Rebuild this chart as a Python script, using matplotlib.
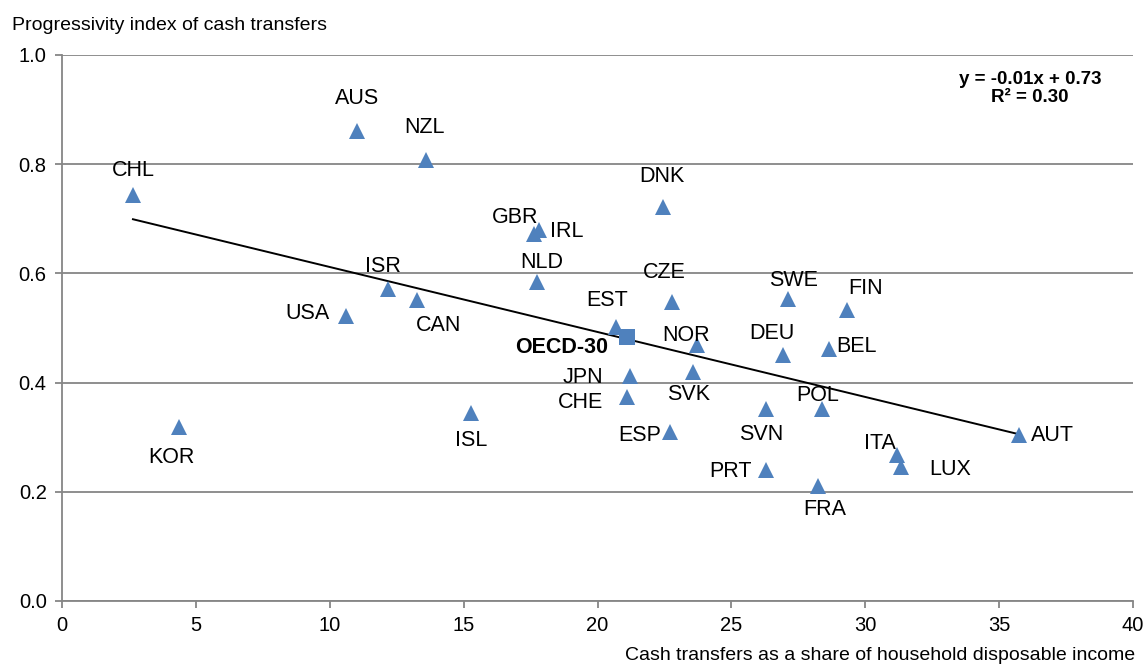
import numpy as np
import matplotlib
matplotlib.use("Agg")
import matplotlib.pyplot as plt

plt.rcParams["font.family"] = ["Liberation Sans", "DejaVu Sans"]

# data
countries = ["CHL", "AUS", "NZL", "DNK", "GBR", "IRL", "NLD", "CZE", "EST", "NOR",
             "DEU", "JPN", "SVK", "CHE", "ISL", "ESP", "SVN", "SWE", "FIN", "BEL",
             "POL", "PRT", "FRA", "ITA", "LUX", "AUT", "ISR", "CAN", "USA", "KOR"]
transfers_share = [2.65, 11.02, 13.59, 22.43, 17.62, 17.82, 17.75, 22.77, 20.69, 23.72,
                   26.91, 21.21, 23.57, 21.11, 15.26, 22.70, 26.31, 27.12, 29.30, 28.64,
                   28.37, 26.31, 28.22, 31.19, 31.35, 35.74, 12.18, 13.24, 10.60, 4.37]
progressivity = [0.744, 0.861, 0.808, 0.721, 0.672, 0.680, 0.584, 0.548, 0.502, 0.469,
                 0.451, 0.412, 0.420, 0.373, 0.344, 0.310, 0.351, 0.554, 0.533, 0.462,
                 0.351, 0.240, 0.211, 0.267, 0.246, 0.304, 0.571, 0.551, 0.522, 0.318]
oecd_x = 21.12
oecd_y = 0.483

# label offsets in pixels (dx right, dy down)
label_offsets = {
    "CHL": (0, -24), "AUS": (0, -32), "NZL": (-1, -32), "DNK": (-1, -31),
    "GBR": (-19, -17), "IRL": (28, 2), "NLD": (4, -20), "CZE": (-7, -29),
    "EST": (-9, -26), "NOR": (-11, -9), "DEU": (-11, -21), "JPN": (-47, 1),
    "SVK": (-5, 23), "CHE": (-47, 5), "ISL": (1, 27), "ESP": (-30, 4),
    "SVN": (-5, 25), "SWE": (5, -18), "FIN": (19, -21), "BEL": (28, -2),
    "POL": (-4, -14), "PRT": (-36, 2), "FRA": (7, 24), "ITA": (-17, -12),
    "LUX": (49, 3), "AUT": (34, 0), "ISR": (-5, -23), "CAN": (22, 25),
    "USA": (-38, -2), "KOR": (-8, 30),
}

blue = "#4F81BD"
grey = "#868686"
px = 72 / 100

fig = plt.figure(figsize=(11.45, 6.65), dpi=100)
ax = fig.add_axes([62 / 1145, 1 - 601 / 665, (1133 - 62) / 1145, (601 - 55) / 665])

# trend line over the country range
xs = np.array(transfers_share)
ys = np.array(progressivity)
slope, intercept = np.polyfit(xs, ys, 1)
line_x = np.array([xs.min(), xs.max()])
ax.plot(line_x, slope * line_x + intercept, color="black", linewidth=1.4, zorder=2)

ax.plot(xs, ys, linestyle="none", marker="^", markersize=11, color=blue,
        markeredgewidth=0, zorder=3)
ax.plot([oecd_x], [oecd_y], linestyle="none", marker="s", markersize=11, color=blue,
        markeredgewidth=0, zorder=3)

for name, x, y in zip(countries, transfers_share, progressivity):
    dx, dy = label_offsets[name]
    ax.annotate(name, (x, y), xytext=(dx * px, -dy * px), textcoords="offset points",
                ha="center", va="center", fontsize=15.5, color="black", zorder=4)
ax.annotate("OECD-30", (oecd_x, oecd_y), xytext=(-66 * px, -10 * px),
            textcoords="offset points", ha="center", va="center", fontsize=15.5,
            fontweight="bold", color="black", zorder=4)

ax.set_xlim(0, 40)
ax.set_ylim(0, 1.0)
ax.set_xticks(np.arange(0, 41, 5))
ax.set_yticks(np.arange(0, 1.01, 0.2))
ax.set_yticklabels([f"{v:.1f}" for v in np.arange(0, 1.01, 0.2)])
ax.yaxis.grid(True, color=grey, linewidth=1.3)
ax.set_axisbelow(True)
for side in ["top", "right"]:
    ax.spines[side].set_visible(False)
for side in ["left", "bottom"]:
    ax.spines[side].set_color(grey)
    ax.spines[side].set_linewidth(1.3)
ax.tick_params(axis="both", colors=grey, length=5, width=1.3, labelsize=14.5,
               labelcolor="black", pad=6)

fig.text(1030 / 1145, 1 - 79 / 665, "y = -0.01x + 0.73", ha="center", va="center",
         fontsize=13.5, fontweight="bold")
fig.text(1030 / 1145, 1 - 98 / 665, "R² = 0.30", ha="center", va="center",
         fontsize=13.5, fontweight="bold")

fig.text(12 / 1145, 1 - 25 / 665, "Progressivity index of cash transfers",
         ha="left", va="center", fontsize=14)
fig.text(1135 / 1145, 1 - 655 / 665, "Cash transfers as a share of household disposable income",
         ha="right", va="center", fontsize=14)

fig.savefig("out.png", dpi=100)
